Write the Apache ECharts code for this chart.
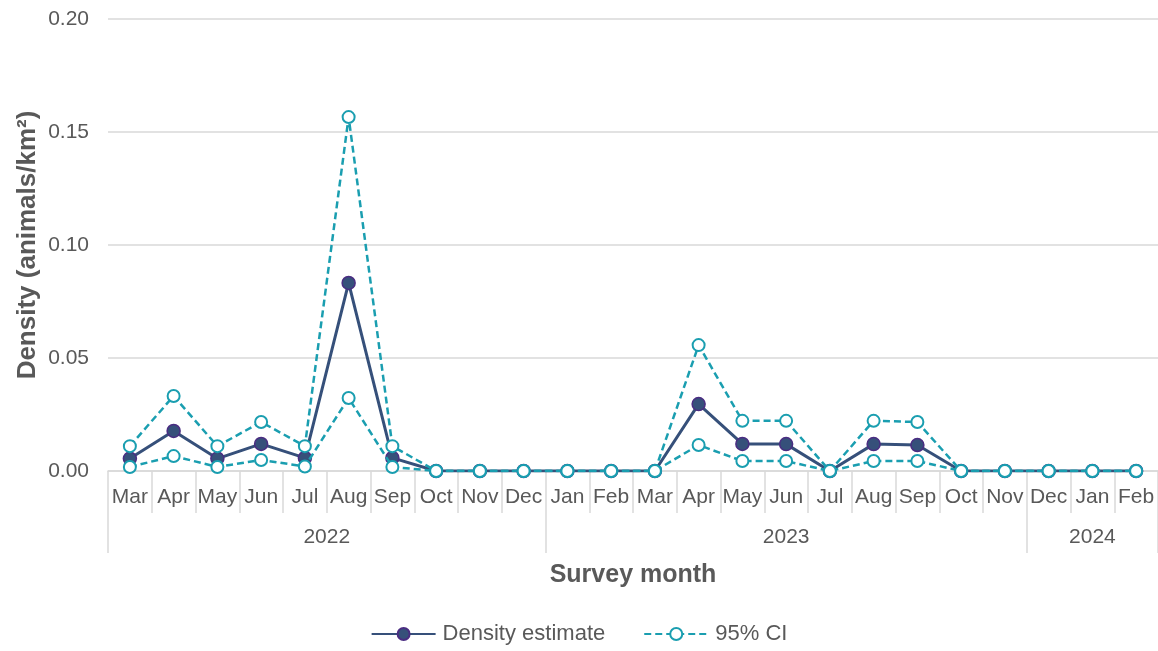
<!DOCTYPE html>
<html>
<head>
<meta charset="utf-8">
<script src="https://cdn.jsdelivr.net/npm/echarts@6/dist/echarts.min.js"></script>
<style>
  html, body { margin: 0; padding: 0; background: #ffffff; }
  #chart { width: 1158px; height: 651px; }
</style>
</head>
<body>
<div id="chart"></div>
<script>
// Survey months, March 2022 to February 2024
const months = ['Mar','Apr','May','Jun','Jul','Aug','Sep','Oct','Nov','Dec',
                'Jan','Feb','Mar','Apr','May','Jun','Jul','Aug','Sep','Oct','Nov',
                'Dec','Jan','Feb'];
// Year groups and how many survey months fall in each
const years = ['2022', '2023', '2024'];
const yearMonthCounts = [10, 11, 3];

// Density estimate (animals/km²) with lower and upper 95% confidence limits
const density = [0.0055, 0.0177, 0.0055, 0.0120, 0.0058, 0.0832, 0.0058, 0, 0, 0,
                 0, 0, 0, 0.0296, 0.0120, 0.0119, 0, 0.0119, 0.0115, 0, 0,
                 0, 0, 0];
const ciUpper = [0.0110, 0.0332, 0.0110, 0.0217, 0.0110, 0.1566, 0.0110, 0, 0, 0,
                 0, 0, 0, 0.0557, 0.0222, 0.0222, 0, 0.0222, 0.0217, 0, 0,
                 0, 0, 0];
const ciLower = [0.0018, 0.0066, 0.0018, 0.0049, 0.0020, 0.0323, 0.0018, 0, 0, 0,
                 0, 0, 0, 0.0115, 0.0044, 0.0044, 0, 0.0044, 0.0044, 0, 0,
                 0, 0, 0];

const yTicks = { min: 0, max: 0.20, interval: 0.05 };

// The year row runs on a half-month grid so each year label can sit at the
// middle of its span and each separator at a year boundary.
const halfSteps = months.length * 2;
const yearAxisData = new Array(halfSteps + 1).fill('');
const yearBoundaries = [0];
let start = 0;
years.forEach(function (y, i) {
  const span = yearMonthCounts[i] * 2;
  yearAxisData[start + span / 2] = y;
  start += span;
  yearBoundaries.push(start);
});

const FONT = '"Liberation Sans", Arial, sans-serif';
const GREY_TEXT = '#595959';
const GRID_GREY = '#d9d9d9';
const NAVY = '#36507a';
const TEAL = '#1a9eb0';

const chart = echarts.init(document.getElementById('chart'), null, { renderer: 'canvas' });

chart.setOption({
  animation: false,
  textStyle: { fontFamily: FONT },
  grid: { left: 108, right: 0, top: 19, bottom: 180, containLabel: false },
  legend: {
    bottom: 1,
    left: 'center',
    itemWidth: 64,
    itemHeight: 15,
    itemGap: 38,
    textStyle: { fontFamily: FONT, fontSize: 22, color: GREY_TEXT, padding: [0, 0, 0, 2] },
    data: ['Density estimate', '95% CI']
  },
  xAxis: [
    {
      type: 'category',
      data: months,
      boundaryGap: true,
      axisLine: { show: true, lineStyle: { color: GRID_GREY, width: 1.5 } },
      axisTick: { show: true, length: 42, interval: 0, alignWithLabel: false,
                  lineStyle: { color: GRID_GREY, width: 1.5 } },
      axisLabel: { interval: 0, margin: 16, fontSize: 21, color: GREY_TEXT, fontFamily: FONT }
    },
    {
      type: 'category',
      data: yearAxisData,
      boundaryGap: false,
      position: 'bottom',
      axisLine: { show: false },
      axisTick: {
        show: true, length: 82,
        interval: function (idx) { return yearBoundaries.indexOf(idx) !== -1; },
        lineStyle: { color: GRID_GREY, width: 1.5 }
      },
      axisLabel: {
        interval: function (idx, val) { return val !== ''; },
        margin: 56, fontSize: 21, color: GREY_TEXT, fontFamily: FONT
      },
      name: 'Survey month',
      nameLocation: 'middle',
      nameGap: 92,
      nameMoveOverlap: false,
      nameTextStyle: { fontSize: 25, fontWeight: 'bold', color: GREY_TEXT, fontFamily: FONT }
    }
  ],
  yAxis: {
    type: 'value',
    min: yTicks.min,
    max: yTicks.max,
    interval: yTicks.interval,
    axisLine: { show: false },
    axisTick: { show: false },
    splitLine: { lineStyle: { color: GRID_GREY, width: 1.5 } },
    axisLabel: {
      margin: 19, fontSize: 21, color: GREY_TEXT, fontFamily: FONT,
      formatter: function (v) { return v.toFixed(2); }
    },
    name: 'Density (animals/km²)',
    nameLocation: 'middle',
    nameGap: 67,
    nameMoveOverlap: false,
    nameTextStyle: { fontSize: 26, fontWeight: 'bold', color: GREY_TEXT, fontFamily: FONT }
  },
  series: [
    {
      name: 'Density estimate',
      type: 'line',
      xAxisIndex: 0,
      data: density,
      symbol: 'circle',
      symbolSize: 13,
      lineStyle: { color: NAVY, width: 3 },
      itemStyle: { color: NAVY, borderColor: '#4a2d82', borderWidth: 1.5 },
      z: 2
    },
    {
      name: '95% CI',
      type: 'line',
      xAxisIndex: 0,
      data: ciUpper,
      symbol: 'circle',
      symbolSize: 12,
      lineStyle: { color: TEAL, width: 2.5, type: [7, 4] },
      itemStyle: { color: '#ffffff', borderColor: TEAL, borderWidth: 2 },
      z: 3
    },
    {
      name: '95% CI',
      type: 'line',
      xAxisIndex: 0,
      data: ciLower,
      symbol: 'circle',
      symbolSize: 12,
      lineStyle: { color: TEAL, width: 2.5, type: [7, 4] },
      itemStyle: { color: '#ffffff', borderColor: TEAL, borderWidth: 2 },
      z: 3
    }
  ]
});
</script>
</body>
</html>
